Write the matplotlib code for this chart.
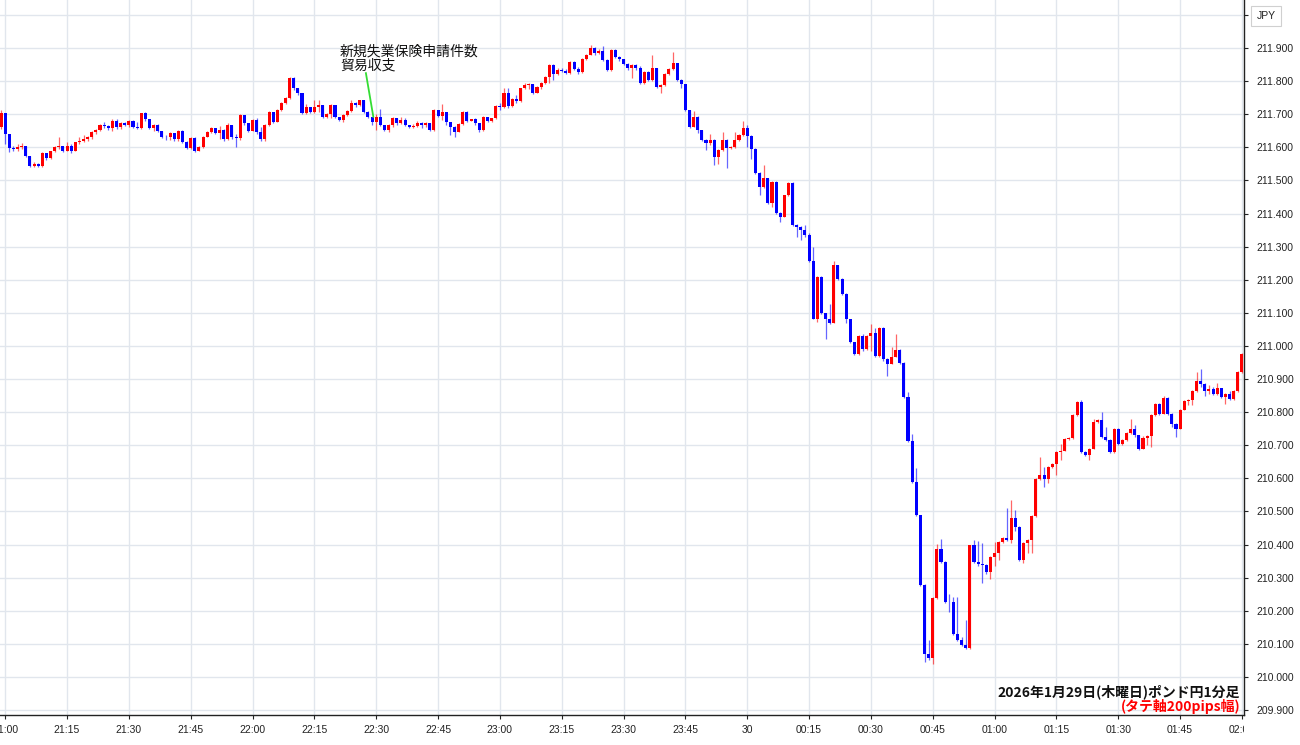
import matplotlib
matplotlib.use("Agg")
import matplotlib.pyplot as plt
import numpy as np
from matplotlib.transforms import Bbox, TransformedBbox

plt.rcParams['font.family'] = ['Liberation Sans', 'Noto Sans CJK JP', 'DejaVu Sans']

# 1-minute GBP/JPY candles, 20:59 .. 02:00 (minute index, 0 = 21:00)
minutes = np.arange(-1, 301)
first_open = 211.660
close = [
    211.705, 211.640, 211.598, 211.595, 211.600, 211.605, 211.575, 211.545, 211.550, 211.545,
    211.583, 211.567, 211.588, 211.600, 211.605, 211.590, 211.605, 211.590, 211.615, 211.618,
    211.625, 211.630, 211.645, 211.652, 211.667, 211.663, 211.658, 211.680, 211.660, 211.672,
    211.667, 211.679, 211.660, 211.657, 211.703, 211.685, 211.657, 211.667, 211.648, 211.632,
    211.630, 211.642, 211.624, 211.650, 211.617, 211.598, 211.628, 211.590, 211.600, 211.632,
    211.645, 211.657, 211.644, 211.652, 211.625, 211.667, 211.630, 211.628, 211.697, 211.672,
    211.650, 211.682, 211.647, 211.625, 211.667, 211.707, 211.677, 211.712, 211.733, 211.748,
    211.810, 211.778, 211.763, 211.704, 211.722, 211.707, 211.722, 211.727, 211.692, 211.700,
    211.727, 211.692, 211.682, 211.697, 211.710, 211.733, 211.727, 211.742, 211.708, 211.692,
    211.675, 211.692, 211.667, 211.652, 211.668, 211.690, 211.672, 211.682, 211.667, 211.660,
    211.665, 211.672, 211.667, 211.672, 211.652, 211.714, 211.695, 211.707, 211.677, 211.662,
    211.647, 211.670, 211.707, 211.680, 211.684, 211.672, 211.652, 211.692, 211.680, 211.688,
    211.725, 211.722, 211.763, 211.725, 211.745, 211.740, 211.778, 211.788, 211.790, 211.763,
    211.783, 211.793, 211.813, 211.850, 211.820, 211.835, 211.830, 211.823, 211.857, 211.838,
    211.827, 211.868, 211.880, 211.900, 211.884, 211.891, 211.864, 211.834, 211.894, 211.874,
    211.866, 211.853, 211.840, 211.849, 211.840, 211.793, 211.828, 211.803, 211.839, 211.783,
    211.788, 211.820, 211.837, 211.854, 211.803, 211.790, 211.713, 211.662, 211.693, 211.652,
    211.622, 211.612, 211.622, 211.572, 211.592, 211.622, 211.597, 211.602, 211.622, 211.636,
    211.658, 211.635, 211.596, 211.523, 211.480, 211.507, 211.433, 211.495, 211.402, 211.390,
    211.455, 211.493, 211.365, 211.360, 211.350, 211.336, 211.257, 211.082, 211.208, 211.098,
    211.080, 211.070, 211.243, 211.203, 211.158, 211.080, 211.011, 210.976, 211.031, 210.990,
    211.030, 211.040, 210.970, 211.054, 210.960, 210.946, 210.968, 210.988, 210.948, 210.845,
    210.714, 210.588, 210.488, 210.277, 210.070, 210.056, 210.237, 210.387, 210.347, 210.227,
    210.225, 210.131, 210.111, 210.096, 210.086, 210.398, 210.347, 210.342, 210.338, 210.317,
    210.363, 210.374, 210.409, 210.421, 210.414, 210.479, 210.452, 210.354, 210.404, 210.414,
    210.486, 210.597, 210.610, 210.597, 210.635, 210.643, 210.680, 210.684, 210.720, 210.723,
    210.790, 210.831, 210.680, 210.670, 210.690, 210.771, 210.776, 210.726, 210.716, 210.680,
    210.750, 210.705, 210.715, 210.737, 210.750, 210.730, 210.690, 210.723, 210.727, 210.790,
    210.825, 210.795, 210.842, 210.795, 210.765, 210.750, 210.807, 210.835, 210.837, 210.865,
    210.895, 210.885, 210.865, 210.870, 210.855, 210.872, 210.847, 210.855, 210.840, 210.865,
    210.920, 210.975,
]
high = [
    211.712, 211.705, 211.640, 211.605, 211.610, 211.612, 211.605, 211.575, 211.557, 211.552,
    211.585, 211.583, 211.590, 211.603, 211.632, 211.605, 211.615, 211.610, 211.617, 211.630,
    211.637, 211.633, 211.648, 211.655, 211.670, 211.675, 211.668, 211.686, 211.686, 211.677,
    211.675, 211.683, 211.682, 211.675, 211.705, 211.708, 211.687, 211.670, 211.670, 211.650,
    211.636, 211.645, 211.644, 211.652, 211.652, 211.620, 211.630, 211.630, 211.604, 211.635,
    211.648, 211.660, 211.658, 211.665, 211.655, 211.673, 211.667, 211.640, 211.700, 211.697,
    211.672, 211.685, 211.688, 211.660, 211.670, 211.710, 211.707, 211.715, 211.737, 211.752,
    211.812, 211.812, 211.778, 211.763, 211.730, 211.722, 211.742, 211.743, 211.728, 211.705,
    211.730, 211.728, 211.693, 211.700, 211.713, 211.743, 211.738, 211.743, 211.744, 211.710,
    211.692, 211.700, 211.717, 211.668, 211.670, 211.692, 211.690, 211.692, 211.690, 211.668,
    211.670, 211.680, 211.677, 211.675, 211.673, 211.716, 211.714, 211.732, 211.707, 211.677,
    211.665, 211.672, 211.710, 211.710, 211.686, 211.688, 211.674, 211.695, 211.693, 211.690,
    211.728, 211.735, 211.778, 211.778, 211.748, 211.758, 211.780, 211.795, 211.795, 211.790,
    211.786, 211.796, 211.816, 211.853, 211.852, 211.840, 211.840, 211.838, 211.860, 211.860,
    211.842, 211.870, 211.883, 211.910, 211.902, 211.897, 211.906, 211.868, 211.897, 211.896,
    211.876, 211.868, 211.855, 211.852, 211.852, 211.845, 211.830, 211.830, 211.880, 211.840,
    211.790, 211.823, 211.840, 211.889, 211.856, 211.805, 211.792, 211.713, 211.710, 211.695,
    211.652, 211.624, 211.640, 211.624, 211.595, 211.647, 211.624, 211.605, 211.645, 211.640,
    211.678, 211.668, 211.637, 211.598, 211.525, 211.546, 211.508, 211.498, 211.497, 211.404,
    211.457, 211.495, 211.495, 211.367, 211.362, 211.365, 211.340, 211.300, 211.210, 211.210,
    211.100, 211.128, 211.257, 211.245, 211.205, 211.160, 211.082, 211.013, 211.034, 211.035,
    211.033, 211.066, 211.055, 211.057, 211.056, 210.962, 210.996, 211.036, 210.990, 210.950,
    210.860, 210.734, 210.630, 210.490, 210.280, 210.113, 210.240, 210.402, 210.418, 210.350,
    210.252, 210.240, 210.242, 210.120, 210.171, 210.400, 210.415, 210.410, 210.405, 210.340,
    210.366, 210.409, 210.412, 210.424, 210.510, 210.535, 210.505, 210.455, 210.407, 210.418,
    210.490, 210.600, 210.665, 210.635, 210.638, 210.645, 210.683, 210.705, 210.723, 210.726,
    210.793, 210.834, 210.838, 210.682, 210.693, 210.780, 210.779, 210.800, 210.756, 210.718,
    210.753, 210.752, 210.720, 210.740, 210.780, 210.760, 210.732, 210.727, 210.730, 210.793,
    210.828, 210.827, 210.850, 210.845, 210.797, 210.768, 210.810, 210.838, 210.840, 210.868,
    210.920, 210.930, 210.887, 210.882, 210.877, 210.887, 210.874, 210.858, 210.865, 210.868,
    210.925, 210.978,
]
low = [
    211.655, 211.610, 211.585, 211.588, 211.590, 211.595, 211.570, 211.540, 211.540, 211.540,
    211.540, 211.563, 211.565, 211.585, 211.595, 211.585, 211.590, 211.583, 211.588, 211.610,
    211.615, 211.620, 211.625, 211.640, 211.648, 211.658, 211.652, 211.650, 211.655, 211.655,
    211.663, 211.660, 211.657, 211.655, 211.655, 211.680, 211.655, 211.650, 211.645, 211.628,
    211.622, 211.622, 211.620, 211.620, 211.612, 211.595, 211.595, 211.585, 211.588, 211.597,
    211.630, 211.643, 211.640, 211.625, 211.620, 211.622, 211.625, 211.600, 211.622, 211.668,
    211.645, 211.648, 211.640, 211.620, 211.620, 211.665, 211.672, 211.675, 211.710, 211.730,
    211.745, 211.774, 211.758, 211.700, 211.700, 211.703, 211.705, 211.707, 211.690, 211.688,
    211.690, 211.688, 211.678, 211.676, 211.695, 211.708, 211.722, 211.725, 211.705, 211.688,
    211.668, 211.652, 211.665, 211.648, 211.645, 211.660, 211.668, 211.670, 211.665, 211.657,
    211.658, 211.660, 211.657, 211.662, 211.650, 211.650, 211.692, 211.682, 211.667, 211.637,
    211.630, 211.645, 211.668, 211.677, 211.678, 211.668, 211.647, 211.650, 211.677, 211.677,
    211.685, 211.712, 211.720, 211.720, 211.722, 211.735, 211.738, 211.775, 211.775, 211.760,
    211.763, 211.775, 211.790, 211.795, 211.803, 211.818, 211.826, 211.820, 211.820, 211.835,
    211.822, 211.825, 211.865, 211.878, 211.880, 211.882, 211.860, 211.830, 211.830, 211.870,
    211.862, 211.850, 211.835, 211.808, 211.835, 211.790, 211.790, 211.800, 211.800, 211.780,
    211.763, 211.785, 211.818, 211.835, 211.800, 211.778, 211.710, 211.658, 211.660, 211.642,
    211.618, 211.592, 211.607, 211.547, 211.550, 211.590, 211.538, 211.594, 211.598, 211.618,
    211.634, 211.600, 211.566, 211.520, 211.455, 211.478, 211.430, 211.420, 211.400, 211.374,
    211.388, 211.453, 211.362, 211.329, 211.320, 211.329, 211.255, 211.080, 211.072, 211.095,
    211.020, 211.065, 211.068, 211.200, 211.155, 211.070, 211.008, 210.972, 210.974, 210.985,
    210.988, 210.985, 210.965, 210.968, 210.955, 210.910, 210.944, 210.966, 210.945, 210.842,
    210.710, 210.585, 210.485, 210.274, 210.046, 210.050, 210.040, 210.235, 210.344, 210.224,
    210.195, 210.128, 210.108, 210.093, 210.083, 210.084, 210.344, 210.335, 210.285, 210.312,
    210.295, 210.334, 210.354, 210.405, 210.410, 210.404, 210.440, 210.350, 210.344, 210.373,
    210.374, 210.484, 210.595, 210.573, 210.585, 210.632, 210.610, 210.655, 210.682, 210.716,
    210.720, 210.788, 210.676, 210.667, 210.655, 210.688, 210.768, 210.722, 210.712, 210.676,
    210.678, 210.700, 210.700, 210.712, 210.735, 210.726, 210.685, 210.688, 210.700, 210.695,
    210.788, 210.792, 210.793, 210.792, 210.755, 210.725, 210.748, 210.805, 210.820, 210.820,
    210.862, 210.875, 210.850, 210.855, 210.852, 210.853, 210.844, 210.825, 210.837, 210.838,
    210.862, 210.918,
]

tick_minutes = list(range(0, 301, 15))
tick_labels = ['21:00', '21:15', '21:30', '21:45', '22:00', '22:15', '22:30', '22:45',
               '23:00', '23:15', '23:30', '23:45', '30', '00:15', '00:30', '00:45',
               '01:00', '01:15', '01:30', '01:45', '02:00']
price_ticks = [round(209.9 + 0.1 * i, 1) for i in range(22)]  # 209.9 .. 212.0

# event marker (news release at 22:30)
event_text = ['新規失業保険申請件数', '貿易収支']
event_line_x = [87.5, 89.3]
event_line_y = [211.824, 211.692]

up_color = '#ff0000'
down_color = '#0000ff'

c = np.array(close)
o = np.concatenate([[first_open], c[:-1]])
h = np.array(high)
lo = np.array(low)
colors = np.where(c >= o, up_color, down_color)

fig = plt.figure(figsize=(13, 7.45), dpi=100)
ax = fig.add_axes([0, 30 / 745, 1244 / 1300, 715 / 745])

ax.vlines(minutes, lo, h, colors=colors, linewidth=0.9, alpha=0.6, zorder=2)
ax.bar(minutes, np.maximum(np.abs(c - o), 0.0025), bottom=np.minimum(o, c),
       width=0.74, color=colors, linewidth=0, zorder=3)

ax.set_xlim(-1.26, 300.5)
ax.set_ylim(209.885, 212.045)

ax.set_xticks(tick_minutes)
ax.set_xticklabels(tick_labels)
ax.set_yticks(price_ticks)
ax.set_yticklabels(['%.3f' % p for p in price_ticks[:-1]] + ['JPY'])
ax.yaxis.tick_right()
ax.tick_params(axis='both', labelsize=7.5, colors='#222222', length=3, width=0.8)
ax.tick_params(axis='x', pad=4)
ax.tick_params(axis='y', pad=6)
ax.grid(True, color='#e1e6ed', linewidth=1.0, zorder=0)
ax.set_axisbelow(True)

for s in ['left', 'top']:
    ax.spines[s].set_visible(False)
for s in ['right', 'bottom']:
    ax.spines[s].set_color('#222222')
    ax.spines[s].set_linewidth(1.0)

# the chart cuts the time labels at the price scale, like the original
clip = TransformedBbox(Bbox([[0, 0], [1244 / 1300, 1]]), fig.transFigure)
for lbl in ax.get_xticklabels():
    lbl.set_clip_box(clip)
    lbl.set_clip_on(True)

jpy = ax.get_yticklabels()[-1]
jpy.set_bbox(dict(facecolor='white', edgecolor='#d0d0d0', boxstyle='square,pad=0.5', linewidth=0.8))

# event annotation
ax.plot(event_line_x, event_line_y, color='#33dd33', linewidth=1.3, zorder=4)
ax.text(81.2, 211.890, event_text[0], fontsize=10, family=['Noto Sans CJK JP', 'DejaVu Sans'],
        va='center', ha='left', color='#111111', zorder=5)
ax.text(81.2, 211.846, event_text[1], fontsize=10, family=['Noto Sans CJK JP', 'DejaVu Sans'],
        va='center', ha='left', color='#111111', zorder=5)

ax.text(0.9968, (715 - 692) / 715, '2026年1月29日(木曜日)ポンド円1分足', transform=ax.transAxes,
        fontsize=10, family=['Noto Sans CJK JP', 'DejaVu Sans'], ha='right', va='center',
        color='#111111', fontweight='bold')
ax.text(0.9968, (715 - 707) / 715, '(タテ軸200pips幅)', transform=ax.transAxes,
        fontsize=10, family=['Noto Sans CJK JP', 'DejaVu Sans'], ha='right', va='center',
        color='#ff0000', fontweight='bold')

fig.savefig('out.png', dpi=100)
